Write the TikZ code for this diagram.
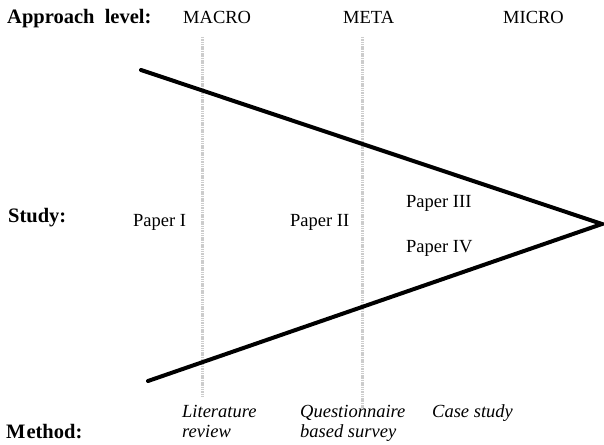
\documentclass[tikz,border=0pt]{standalone}
\usepackage{fontspec}
\setmainfont{Liberation Serif}
\usepackage{tikz}
\usetikzlibrary{positioning}

\begin{document}
\begin{tikzpicture}[x=1pt, y=-1pt, font=\fontsize{18.5}{20}\selectfont]
      \tikzstyle{head} = [font=\fontsize{20.5}{22}\selectfont\bfseries, anchor=base west, inner sep=0]
      \tikzstyle{level} = [anchor=base west, inner sep=0]
      \tikzstyle{paper} = [anchor=base west, inner sep=0]
      \tikzstyle{method} = [font=\fontsize{18.5}{20}\selectfont\itshape, anchor=base west, align=left, inner sep=0]
      \tikzstyle{funnel} = [line width=4pt, line cap=round]
      \tikzstyle{divider} = [line width=3pt, gray!40, dash pattern=on 1.5pt off 0.8pt]

      \useasboundingbox (0,0) rectangle (604,444);

      % labels
      \node[head]   (appr)  at (7,24)    {Approach\ \ level:};
      \node[level]  (macro) at (183,24)  {MACRO};
      \node[level]  (meta)  at (343,24)  {META};
      \node[level]  (micro) at (503,24)  {MICRO};
      \node[head]   (study) at (8,222)   {Study:};
      \node[head]   (meth)  at (6,438)   {M\kern1pt ethod:};

      % dividers
      \coordinate (d1t) at (202,37);
      \coordinate (d1b) at (202,398);
      \coordinate (d2t) at (362,37);
      \coordinate (d2b) at (362,408);
      \draw[divider] (d1t) -- (d1b);
      \draw[divider] (d2t) -- (d2b);

      % funnel
      \coordinate (top) at (141,70);
      \coordinate (bot) at (148,381);
      \coordinate (tip) at (602,224);
      \draw[funnel] (top) -- (tip) -- (bot);

      % studies
      \node[paper] (p1) at (133,226) {Paper I};
      \node[paper] (p2) at (290,226) {Paper II};
      \node[paper] (p3) at (406,207) {Paper III};
      \node[paper] (p4) at (406,252) {Paper IV};

      % methods
      \node[method] (m1) at (182,437) {Literature\\review};
      \node[method] (m2) at (300,437) {Questionnaire\\based survey};
      \node[method] (m3) at (432,417) {Case study};
\end{tikzpicture}
\end{document}
